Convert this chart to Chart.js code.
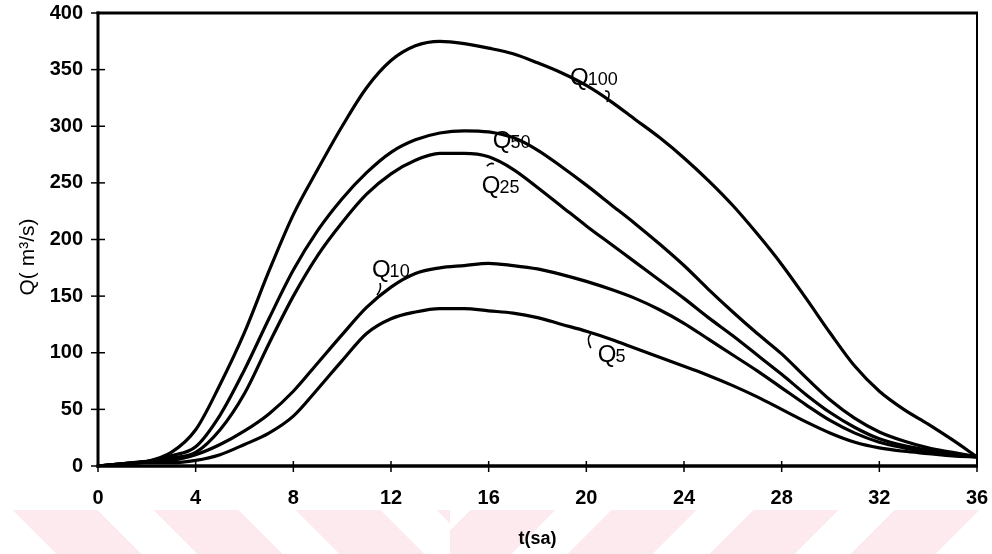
<!DOCTYPE html>
<html>
<head>
<meta charset="utf-8">
<script src="https://cdn.jsdelivr.net/npm/chart.js@4/dist/chart.umd.min.js"></script>
<style>
  html, body { margin: 0; padding: 0; background: #ffffff; }
  #wrap { position: relative; width: 992px; height: 554px; overflow: hidden; }
  #stripes { position: absolute; left: 0; top: 510px; width: 450px; height: 44px;
    background: repeating-linear-gradient(45deg, #ffffff 0, #ffffff 40px, #fdeaee 40px, #fdeaee 100px);
  }
  #stripes2 { position: absolute; left: 450px; top: 510px; width: 542px; height: 44px;
    background: repeating-linear-gradient(-45deg, #ffffff 0, #ffffff 40px, #fdeaee 40px, #fdeaee 100px);
  }
  canvas { position: absolute; left: 0; top: 0; }
</style>
</head>
<body>
<div id="wrap">
  <div id="stripes"></div>
  <div id="stripes2"></div>
  <canvas id="c" width="992" height="554"></canvas>
</div>
<script>
const times = [0,1,2,3,4,5,6,7,8,9,10,11,12,13,14,15,16,17,18,19,20,21,22,23,24,25,26,27,28,29,30,31,32,33,34,35,36];
const q100 = [0,2,4,12,32,72,118,172,222,262,300,334,358,371,375,373,369,364,356,347,336,322,306,290,272,252,230,205,178,148,117,88,66,50,37,23,8];
const q50  = [0,2,4,9,17,45,85,130,173,208,236,259,277,288,294,296,295,290,279,264,248,231,214,196,177,156,136,117,99,78,58,42,30,22,16,12,8];
const q25  = [0,2,4,7,12,32,64,108,150,186,215,240,258,270,276,276,273,262,246,229,212,196,180,164,148,131,115,98,81,63,47,34,24,18,14,11,8];
const q10  = [0,2,4,5,10,19,31,46,66,91,116,140,158,170,175,177,179,177,174,169,163,156,148,138,126,112,98,84,69,54,40,29,21,16,12,10,8];
const q5   = [0,1,3,3,5,10,19,29,44,68,93,117,130,136,139,139,137,135,131,125,119,112,104,96,88,80,71,61,50,39,29,21,16,13,11,9,8];
const seriesNames = ['Q100','Q50','Q25','Q10','Q5'];
const xTicks = [0,4,8,12,16,20,24,28,32,36];
const yTicks = [0,50,100,150,200,250,300,350,400];
const xTitle = 't(sa)';
const yTitle = 'Q( m\u00B3/s)';
// curve labels: main letter, subscript, anchor in data units (t, Q)
const labelMain = ['Q','Q','Q','Q','Q'];
const labelSub = ['100','50','25','10','5'];
const labelT = [19.33, 16.17, 15.72, 11.22, 20.47];
const labelV = [336.4, 280.8, 241.0, 166.9, 91.8];

const toPts = arr => arr.map((v, i) => ({x: times[i], y: v}));
const allSeries = [q100, q50, q25, q10, q5];
const FONT = '"Liberation Sans", Arial, sans-serif';

const decoPlugin = {
  id: 'deco',
  afterDraw(chart) {
    const ctx = chart.ctx;
    const ca = chart.chartArea;
    const xs = chart.scales.x, ys = chart.scales.y;
    ctx.save();
    ctx.strokeStyle = '#000';
    ctx.lineCap = 'butt';
    // frame
    ctx.lineWidth = 3;
    ctx.beginPath(); ctx.moveTo(ca.left, ca.top - 1.5); ctx.lineTo(ca.left, ca.bottom + 2); ctx.stroke();
    ctx.beginPath(); ctx.moveTo(ca.left - 1.5, ca.top); ctx.lineTo(ca.right + 1, ca.top); ctx.stroke();
    ctx.lineWidth = 3.5;
    ctx.beginPath(); ctx.moveTo(ca.left - 1.5, ca.bottom); ctx.lineTo(ca.right + 1, ca.bottom); ctx.stroke();
    ctx.lineWidth = 2;
    ctx.beginPath(); ctx.moveTo(ca.right, ca.top); ctx.lineTo(ca.right, ca.bottom); ctx.stroke();
    // ticks crossing axes
    ctx.lineWidth = 1.5;
    xTicks.forEach(t => {
      const px = xs.getPixelForValue(t);
      ctx.beginPath(); ctx.moveTo(px, ca.bottom - 5); ctx.lineTo(px, ca.bottom + 6); ctx.stroke();
    });
    yTicks.forEach(v => {
      const py = ys.getPixelForValue(v);
      ctx.beginPath(); ctx.moveTo(ca.left - 7, py); ctx.lineTo(ca.left + 7, py); ctx.stroke();
    });
    // y title
    ctx.fillStyle = '#000';
    ctx.save();
    ctx.translate(28, 257);
    ctx.rotate(-Math.PI / 2);
    ctx.font = '21px ' + FONT;
    ctx.textAlign = 'center';
    ctx.textBaseline = 'middle';
    ctx.fillText(yTitle, 0, 0);
    ctx.restore();
    // curve labels
    ctx.textBaseline = 'alphabetic';
    ctx.textAlign = 'left';
    for (let i = 0; i < labelMain.length; i++) {
      const px = xs.getPixelForValue(labelT[i]);
      const py = ys.getPixelForValue(labelV[i]);
      ctx.font = '24px ' + FONT;
      ctx.fillText(labelMain[i], px, py);
      const w = ctx.measureText(labelMain[i]).width;
      ctx.font = '18px ' + FONT;
      ctx.fillText(labelSub[i], px + w - 1, py);
    }
    // small leader strokes
    ctx.lineWidth = 1.6;
    const lead = (i, pts) => {
      const px = xs.getPixelForValue(labelT[i]);
      const py = ys.getPixelForValue(labelV[i]);
      ctx.beginPath();
      ctx.moveTo(px + pts[0], py + pts[1]);
      ctx.quadraticCurveTo(px + pts[2], py + pts[3], px + pts[4], py + pts[5]);
      ctx.stroke();
    };
    lead(0, [35, 6, 42, 5, 37, 17]);
    lead(2, [5, -27, 9, -31, 12, -29]);
    lead(3, [8, 6, 10, 12, 5, 18]);
    lead(4, [-7, -28, -12, -24, -7, -14]);
    ctx.restore();
  }
};

const zeroPad = s => { s.paddingTop = 0; s.paddingBottom = 0; s.paddingLeft = 0; s.paddingRight = 0; };

new Chart(document.getElementById('c'), {
  type: 'line',
  data: {
    datasets: allSeries.map((s, i) => ({
      label: seriesNames[i],
      data: toPts(s),
      borderColor: '#000',
      borderWidth: 3.2,
      pointRadius: 0,
      fill: false,
      cubicInterpolationMode: 'monotone'
    }))
  },
  options: {
    responsive: false,
    animation: false,
    devicePixelRatio: 1,
    layout: { padding: { left: 0, top: 13, right: 15, bottom: 0 } },
    plugins: { legend: { display: false }, tooltip: { enabled: false } },
    scales: {
      x: {
        type: 'linear', min: 0, max: 36,
        afterBuildTicks: s => { s.ticks = xTicks.map(v => ({value: v})); },
        afterFit: s => { s.height = 88; zeroPad(s); },
        grid: { display: false, drawTicks: false },
        border: { display: false },
        ticks: { padding: 20, color: '#000', font: { family: FONT, size: 20, weight: 'bold' } },
        title: { display: true, text: xTitle, color: '#000', padding: { top: 19 },
          font: { family: FONT, size: 18, weight: 'bold' } }
      },
      y: {
        type: 'linear', min: 0, max: 400,
        afterBuildTicks: s => { s.ticks = yTicks.map(v => ({value: v})); },
        afterFit: s => { s.width = 98; zeroPad(s); },
        grid: { display: false, drawTicks: false },
        border: { display: false },
        ticks: { padding: 15, color: '#000', font: { family: FONT, size: 20, weight: 'bold' } }
      }
    }
  },
  plugins: [decoPlugin]
});
</script>
</body>
</html>
